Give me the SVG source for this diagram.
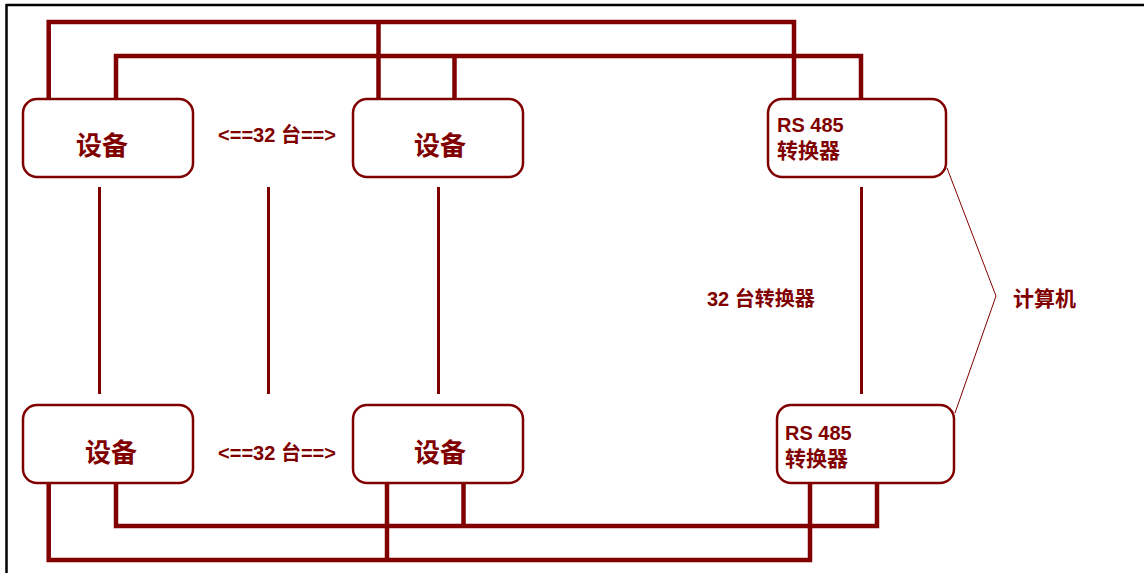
<svg xmlns="http://www.w3.org/2000/svg" width="1144" height="573" viewBox="0 0 1144 573">
<style>
.box{fill:#fff;stroke:#800000;stroke-width:2.5}
.t{font-family:"Liberation Sans","Noto Sans CJK SC",sans-serif;font-weight:bold;fill:#800000}
.big{font-size:26px;text-anchor:middle}
.mid{font-size:20px}
.rs{font-size:20px}
.cj{font-size:21px}
.bus{fill:none;stroke:#800000;stroke-width:4.5}
.thin{fill:none;stroke:#800000;stroke-width:3}
.hair{fill:none;stroke:#800000;stroke-width:1}
</style>
<rect width="1144" height="573" fill="#fff"/>
<g id="frame">
<line x1="6" y1="5" x2="1144" y2="5" stroke="#000" stroke-width="2.5"/>
<line x1="6.5" y1="4" x2="6.5" y2="573" stroke="#000" stroke-width="2.5"/>
</g>
<g id="connectors">
<path class="bus" d="M48.7,99 V22 H794 V99"/>
<path class="bus" d="M378.5,22 V99"/>
<path class="bus" d="M116,99 V56 H861 V99"/>
<path class="bus" d="M454.5,56 V99"/>
<path class="bus" d="M48.7,483 V560 H810 V483"/>
<path class="bus" d="M387,483 V560"/>
<path class="bus" d="M116,483 V526 H877 V483"/>
<path class="bus" d="M463.5,483 V526"/>
<line class="thin" x1="99.5" y1="187" x2="99.5" y2="394"/>
<line class="thin" x1="268.5" y1="187" x2="268.5" y2="394"/>
<line class="thin" x1="438.5" y1="187" x2="438.5" y2="394"/>
<line class="thin" x1="861.5" y1="187" x2="861.5" y2="394"/>
<polyline class="hair" points="947,168 996,296 955,413"/>
</g>
<g id="dev-top-left">
<rect class="box" x="23" y="99" width="170" height="78" rx="14"/>
<text class="t big" x="102" y="155">设备</text>
</g>
<g id="dev-top-mid">
<rect class="box" x="353" y="99" width="170" height="78" rx="14"/>
<text class="t big" x="440" y="155">设备</text>
</g>
<g id="rs-top">
<rect class="box" x="768" y="99" width="178" height="78" rx="14"/>
<text class="t rs" x="777" y="132">RS 485</text>
<text class="t cj" x="777" y="158">转换器</text>
</g>
<g id="dev-bot-left">
<rect class="box" x="23" y="405" width="170" height="78" rx="14"/>
<text class="t big" x="111" y="462">设备</text>
</g>
<g id="dev-bot-mid">
<rect class="box" x="353" y="405" width="170" height="78" rx="14"/>
<text class="t big" x="440" y="462">设备</text>
</g>
<g id="rs-bot">
<rect class="box" x="777" y="405" width="177" height="78" rx="14"/>
<text class="t rs" x="785" y="440">RS 485</text>
<text class="t cj" x="785" y="466">转换器</text>
</g>
<g id="labels">
<text class="t mid" x="277" y="142" text-anchor="middle">&lt;==32 台==&gt;</text>
<text class="t mid" x="277" y="460" text-anchor="middle">&lt;==32 台==&gt;</text>
<text class="t mid" x="707" y="306">32 台转换器</text>
<text class="t cj" x="1013" y="306">计算机</text>
</g>
</svg>
